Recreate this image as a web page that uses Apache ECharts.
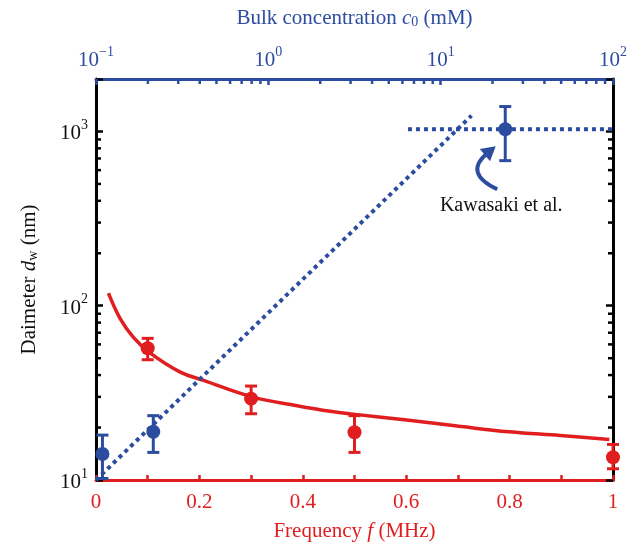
<!DOCTYPE html>
<html>
<head>
<meta charset="utf-8">
<script src="https://cdn.jsdelivr.net/npm/echarts@6/dist/echarts.min.js"></script>
<style>
  html, body { margin: 0; padding: 0; background: #fff; }
  #chart { width: 634px; height: 547px; }
</style>
</head>
<body>
<div id="chart"></div>
<script>
/* data */
var redFreq = [0.1, 0.3, 0.5, 1.0];
var redDiam = [57, 29.3, 18.8, 13.5];
var redLow  = [49, 24, 14.4, 11.6];
var redHigh = [65, 34.6, 23.4, 16.0];

var blueConc = [0.109, 0.215, 23.7];
var blueDiam = [14.1, 18.9, 1030];
var blueLow  = [10.2, 14.4, 680];
var blueHigh = [18.1, 23.4, 1390];

var fitFreq = [0.024, 0.047, 0.072, 0.103, 0.163, 0.208, 0.302, 0.389, 0.453, 0.502, 0.601, 0.699, 0.799, 0.898, 0.993];
var fitDiam = [118, 84, 66, 54, 41.6, 37.3, 30, 26.7, 24.8, 23.8, 22.1, 20.4, 18.9, 18.0, 17.1];

var trendConc = [0.1, 15.1];
var trendDiam = [10, 1233];

var kawaConc = [6.46, 100];
var kawaDiam = [1030, 1030];

var concMinor = [0.2, 0.3, 0.4, 0.5, 0.6, 0.7, 0.8, 0.9, 2, 3, 4, 5, 6, 7, 8, 9, 20, 30, 40, 50, 60, 70, 80, 90];
var diamMinor = [20, 30, 40, 50, 60, 70, 80, 90, 200, 300, 400, 500, 600, 700, 800, 900];

var RED = '#e01d1f';
var BLUE = '#2c4d9f';
var FONT = '"Liberation Serif", "DejaVu Serif", serif';

function zip(a, b) { return a.map(function (v, i) { return [v, b[i]]; }); }
function zip3(a, b, c) { return a.map(function (v, i) { return [v, b[i], c[i]]; }); }

function powLabel(v) {
  var e = Math.log10(v);
  if (Math.abs(e - Math.round(e)) > 1e-6) return '';
  e = Math.round(e);
  return '{b|10}{s|' + (e < 0 ? '\u2212' + (-e) : e) + '}';
}

function powRich(color) {
  return {
    b: { fontFamily: FONT, fontSize: 21, color: color, lineHeight: 26, verticalAlign: 'bottom' },
    s: { fontFamily: FONT, fontSize: 14, color: color, lineHeight: 13, verticalAlign: 'top' }
  };
}

function titleRich(color) {
  return {
    n: { fontFamily: FONT, fontSize: 21, color: color, lineHeight: 26, verticalAlign: 'bottom' },
    i: { fontFamily: FONT, fontSize: 21, color: color, fontStyle: 'italic', lineHeight: 26, verticalAlign: 'bottom' },
    sub: { fontFamily: FONT, fontSize: 14, color: color, lineHeight: 20, verticalAlign: 'bottom' }
  };
}

function errorBar(color) {
  return function (params, api) {
    var x = api.value(0);
    var lo = api.coord([x, api.value(1)]);
    var hi = api.coord([x, api.value(2)]);
    var style = { stroke: color, lineWidth: 3 };
    return {
      type: 'group',
      children: [
        { type: 'line', shape: { x1: lo[0], y1: lo[1], x2: hi[0], y2: hi[1] }, style: style },
        { type: 'line', shape: { x1: lo[0] - 6, y1: lo[1], x2: lo[0] + 6, y2: lo[1] }, style: style },
        { type: 'line', shape: { x1: hi[0] - 6, y1: hi[1], x2: hi[0] + 6, y2: hi[1] }, style: style }
      ]
    };
  };
}

var chart = echarts.init(document.getElementById('chart'), null, { renderer: 'canvas' });

var option = {
  backgroundColor: '#fff',
  animation: false,
  grid: { left: 96, right: 21, top: 79, bottom: 65 },
  xAxis: [{
    type: 'value',
    position: 'bottom',
    min: 0, max: 1, interval: 0.2,
    name: '{n|Frequency }{i|f}{n| (MHz)}',
    nameLocation: 'middle',
    nameGap: 36,
    nameTextStyle: { rich: titleRich(RED) },
    axisLine: { show: true, lineStyle: { color: RED, width: 3 } },
    axisTick: { show: true, inside: true, length: 5, lineStyle: { color: RED, width: 2.5 } },
    minorTick: { show: true, splitNumber: 2, length: 5, lineStyle: { color: RED, width: 2.5 } },
    axisLabel: {
      color: RED, fontFamily: FONT, fontSize: 21, margin: 12,
      formatter: function (v) { return (v === 0 || v === 1) ? String(v) : v.toFixed(1); }
    },
    splitLine: { show: false }
  }, {
    type: 'log',
    logBase: 10,
    position: 'top',
    min: 0.1, max: 100,
    name: '{n|Bulk concentration }{i|c}{sub|0}{n| (mM)}',
    nameLocation: 'middle',
    nameGap: 50,
    nameTextStyle: { rich: titleRich(BLUE) },
    axisLine: { show: true, lineStyle: { color: BLUE, width: 3 } },
    axisTick: { show: true, inside: true, length: 6, lineStyle: { color: BLUE, width: 2.5 } },
    axisLabel: { margin: 8, formatter: powLabel, rich: powRich(BLUE) },
    splitLine: { show: false }
  }],
  yAxis: [{
    type: 'log',
    logBase: 10,
    position: 'left',
    min: 10, max: 2000,
    name: '{n|Daimeter }{i|d}{sub|w}{n| (nm)}',
    nameLocation: 'middle',
    nameGap: 56,
    nameRotate: 90,
    nameTextStyle: { rich: titleRich('#111') },
    axisLine: { show: true, lineStyle: { color: '#000', width: 3 } },
    axisTick: { show: true, inside: true, length: 7, lineStyle: { color: '#000', width: 2.5 } },
    axisLabel: { margin: 8, formatter: powLabel, rich: powRich('#111') },
    splitLine: { show: false }
  }, {
    type: 'log',
    logBase: 10,
    position: 'right',
    min: 10, max: 2000,
    axisLine: { show: true, lineStyle: { color: '#000', width: 3 } },
    axisTick: { show: true, inside: true, length: 7, lineStyle: { color: '#000', width: 2.5 } },
    axisLabel: { show: false },
    splitLine: { show: false }
  }],
  series: [
    {
      // minor log ticks, top axis
      type: 'custom',
      xAxisIndex: 1, yAxisIndex: 0,
      clip: false, silent: true, z: 1,
      data: concMinor.map(function (v) { return [v, 2000]; }),
      renderItem: function (params, api) {
        var p = api.coord([api.value(0), api.value(1)]);
        return { type: 'line', shape: { x1: p[0], y1: p[1], x2: p[0], y2: p[1] + 5 },
                 style: { stroke: BLUE, lineWidth: 2.5 } };
      }
    },
    {
      // minor log ticks, left and right axes
      type: 'custom',
      xAxisIndex: 1, yAxisIndex: 0,
      clip: false, silent: true, z: 1,
      data: diamMinor.map(function (v) { return [0.1, v]; }),
      renderItem: function (params, api) {
        var p = api.coord([api.value(0), api.value(1)]);
        var cs = params.coordSys;
        var st = { stroke: '#000', lineWidth: 2.5 };
        return { type: 'group', children: [
          { type: 'line', shape: { x1: cs.x, y1: p[1], x2: cs.x + 5, y2: p[1] }, style: st },
          { type: 'line', shape: { x1: cs.x + cs.width, y1: p[1], x2: cs.x + cs.width - 5, y2: p[1] }, style: st }
        ] };
      }
    },
    {
      name: 'fit',
      type: 'line',
      xAxisIndex: 0, yAxisIndex: 0,
      data: zip(fitFreq, fitDiam),
      smooth: 0.4,
      showSymbol: false,
      lineStyle: { color: RED, width: 3.5 }
    },
    {
      name: 'trend',
      type: 'line',
      xAxisIndex: 1, yAxisIndex: 0,
      data: zip(trendConc, trendDiam),
      showSymbol: false,
      lineStyle: { color: BLUE, width: 4, type: [4, 4] }
    },
    {
      name: 'kawasaki line',
      type: 'line',
      xAxisIndex: 1, yAxisIndex: 0,
      data: zip(kawaConc, kawaDiam),
      showSymbol: false,
      lineStyle: { color: BLUE, width: 4, type: [4, 4] }
    },
    {
      type: 'custom',
      xAxisIndex: 0, yAxisIndex: 0,
      data: zip3(redFreq, redLow, redHigh),
      renderItem: errorBar(RED), clip: false, z: 3
    },
    {
      type: 'custom',
      xAxisIndex: 1, yAxisIndex: 0,
      data: zip3(blueConc, blueLow, blueHigh),
      renderItem: errorBar(BLUE), clip: false, z: 3
    },
    {
      type: 'scatter',
      xAxisIndex: 0, yAxisIndex: 0,
      data: zip(redFreq, redDiam),
      symbol: 'circle', symbolSize: 14,
      itemStyle: { color: RED, opacity: 1 }, z: 4
    },
    {
      type: 'scatter',
      xAxisIndex: 1, yAxisIndex: 0,
      data: zip(blueConc, blueDiam),
      symbol: 'circle', symbolSize: 14,
      itemStyle: { color: BLUE, opacity: 1 }, z: 4
    },
    {
      // arrow + label for the Kawasaki et al. point
      type: 'custom',
      xAxisIndex: 1, yAxisIndex: 0,
      clip: false, silent: true, z: 5,
      data: [[blueConc[2], blueDiam[2]]],
      renderItem: function (params, api) {
        var p = api.coord([api.value(0), api.value(1)]);
        var tx = p[0] - 8, ty = p[1] + 60;
        var cx = p[0] - 42, cy = p[1] + 44;
        var ex = p[0] - 18, ey = p[1] + 24;
        var dx = ex - cx, dy = ey - cy, len = Math.sqrt(dx * dx + dy * dy);
        dx /= len; dy /= len;
        var tipX = ex + dx * 11, tipY = ey + dy * 11;
        var nx = -dy, ny = dx;
        return { type: 'group', children: [
          { type: 'path',
            shape: { pathData: 'M' + tx + ' ' + ty + ' Q' + cx + ' ' + cy + ' ' + ex + ' ' + ey },
            style: { stroke: BLUE, lineWidth: 4, fill: null } },
          { type: 'polygon',
            shape: { points: [[tipX, tipY], [ex - dx * 3 + nx * 8, ey - dy * 3 + ny * 8], [ex - dx * 3 - nx * 8, ey - dy * 3 - ny * 8]] },
            style: { fill: BLUE } },
          { type: 'text',
            style: { text: 'Kawasaki et al.', x: p[0] - 4, y: p[1] + 77, align: 'center', verticalAlign: 'middle',
                     fontFamily: FONT, fontSize: 20, fill: '#111' } }
        ] };
      }
    }
  ]
};

chart.setOption(option);
window.addEventListener('resize', function () { chart.resize(); });
</script>
</body>
</html>
